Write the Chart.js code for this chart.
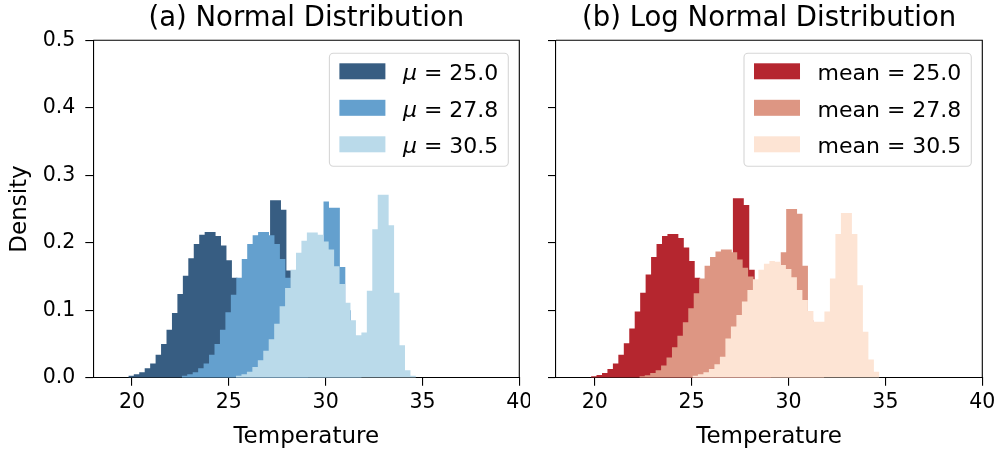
<!DOCTYPE html>
<html>
<head>
<meta charset="utf-8">
<script src="https://cdn.jsdelivr.net/npm/chart.js@4.4.1/dist/chart.umd.min.js"></script>
<style>
  body { margin: 0; background: #fff; }
  #wrap { position: relative; width: 998px; height: 449px; }
  canvas { position: absolute; top: 0; }
</style>
</head>
<body>
<div id="wrap">
  <canvas id="normalChart" width="530" height="449" style="left:0"></canvas>
  <canvas id="logChart" width="468" height="449" style="left:530px"></canvas>
</div>
<script>
// axes
const xMin = 18, xMax = 40;
const xTicks = [20, 25, 30, 35, 40];
const yTicks = [0, 0.1, 0.2, 0.3, 0.4, 0.5];
const yTickLabels = ["0.0", "0.1", "0.2", "0.3", "0.4", "0.5"];

// (a) normal: histogram heights per bin
const normalMeans = ["25.0", "27.8", "30.5"];
const normalBinStart = [19.81, 22.57, 25.37];
const normalBinWidth = [0.2815, 0.2815, 0.2815];
const normal250 = [0.003, 0.005, 0.008, 0.014, 0.021, 0.034, 0.050, 0.071, 0.096, 0.124, 0.151,
  0.177, 0.198, 0.212, 0.216, 0.216, 0.210, 0.196, 0.174, 0.148, 0.125, 0.100, 0.080, 0.085,
  0.120, 0.190, 0.263, 0.263, 0.249, 0.159, 0.090, 0.040, 0.010];
const normal278 = [0.003, 0.005, 0.008, 0.014, 0.021, 0.034, 0.050, 0.071, 0.097, 0.123, 0.148,
  0.176, 0.198, 0.211, 0.216, 0.216, 0.211, 0.198, 0.176, 0.148, 0.125, 0.100, 0.082, 0.085,
  0.125, 0.200, 0.261, 0.252, 0.252, 0.164, 0.100, 0.045, 0.010];
const normal305 = [0.003, 0.005, 0.009, 0.016, 0.026, 0.040, 0.057, 0.080, 0.106, 0.133, 0.160,
  0.185, 0.203, 0.215, 0.215, 0.212, 0.202, 0.190, 0.165, 0.139, 0.111, 0.085, 0.063, 0.067,
  0.129, 0.220, 0.271, 0.271, 0.226, 0.126, 0.048, 0.011, 0.003];

// (b) log normal
const logMeans = ["25.0", "27.8", "30.5"];
const logBinStart = [19.81, 22.30, 25.04];
const logBinWidth = [0.2815, 0.2807, 0.2838];
const log250 = [0.002, 0.004, 0.007, 0.013, 0.021, 0.034, 0.051, 0.073, 0.098, 0.126, 0.153,
  0.179, 0.198, 0.210, 0.213, 0.213, 0.207, 0.193, 0.173, 0.148, 0.125, 0.100, 0.080, 0.085,
  0.120, 0.180, 0.266, 0.266, 0.256, 0.160, 0.090, 0.040, 0.010];
const log278 = [0.002, 0.0035, 0.007, 0.011, 0.018, 0.030, 0.045, 0.062, 0.082, 0.103, 0.125,
  0.147, 0.166, 0.179, 0.187, 0.190, 0.190, 0.186, 0.175, 0.163, 0.150, 0.128, 0.120, 0.125,
  0.140, 0.165, 0.186, 0.250, 0.250, 0.243, 0.166, 0.085, 0.030, 0.008];
const log305 = [0.003, 0.005, 0.008, 0.013, 0.020, 0.031, 0.058, 0.076, 0.093, 0.113, 0.130,
  0.146, 0.160, 0.169, 0.173, 0.172, 0.167, 0.161, 0.149, 0.130, 0.115, 0.099, 0.083, 0.083,
  0.098, 0.147, 0.213, 0.244, 0.244, 0.213, 0.137, 0.068, 0.027, 0.009];

const blues = ["rgb(55,93,130)", "rgb(100,160,206)", "rgb(186,218,234)"];
const reds = ["rgb(181,38,47)", "rgb(221,150,131)", "rgb(253,228,212)"];

Chart.defaults.font.family = "'DejaVu Sans', sans-serif";
Chart.defaults.color = "#000";

// bins -> stepped line points (left edges + closing right edge)
function histPoints(start, width, heights) {
  const pts = heights.map((h, i) => ({ x: start + i * width, y: h }));
  pts.push({ x: start + heights.length * width, y: 0 });
  return pts;
}

function makeDatasets(starts, widths, series, colors) {
  return series.map((s, i) => ({
    data: histPoints(starts[i], widths[i], s),
    stepped: "before",
    fill: "origin",
    backgroundColor: colors[i],
    borderWidth: 0,
    pointRadius: 0,
    order: series.length - i, // first series at the back, like matplotlib
  }));
}

// title, top/right spines, legend box
const decor = {
  id: "decor",
  afterDraw(chart, args, o) {
    const { ctx, chartArea: a } = chart;
    ctx.save();
    ctx.strokeStyle = "#000";
    ctx.lineWidth = 1.1;
    ctx.beginPath();
    ctx.moveTo(a.left, a.top);
    ctx.lineTo(a.right, a.top);
    ctx.lineTo(a.right, a.bottom);
    ctx.stroke();

    ctx.fillStyle = "#000";
    ctx.font = "27.5px 'DejaVu Sans'";
    ctx.textAlign = "center";
    ctx.textBaseline = "middle";
    ctx.fillText(o.title, (a.left + a.right) / 2, 19);

    // legend
    const fs = 22;
    const regular = fs + "px 'DejaVu Sans'";
    const italic = "italic " + fs + "px 'DejaVu Sans'";
    ctx.textAlign = "left";
    ctx.textBaseline = "alphabetic";
    const widths = o.labels.map(l => {
      ctx.font = italic;
      let w = l.prefixItalic ? ctx.measureText(l.prefixItalic).width : 0;
      ctx.font = regular;
      return w + ctx.measureText(l.text).width;
    });
    const textW = Math.max(...widths);
    const boxR = a.right - 11;
    const boxW = 10 + 46 + 17.5 + textW + 10;
    const boxL = boxR - boxW;
    const boxT = a.top + 13;
    const boxH = 113;
    ctx.beginPath();
    ctx.roundRect(boxL, boxT, boxW, boxH, 4);
    ctx.fillStyle = "rgba(255,255,255,0.8)";
    ctx.fill();
    ctx.strokeStyle = "#d6d6d6";
    ctx.lineWidth = 1.1;
    ctx.stroke();
    o.labels.forEach((l, i) => {
      const cy = boxT + 18 + i * 36.5;
      ctx.fillStyle = o.colors[i];
      ctx.fillRect(boxL + 10, cy - 8, 46, 16);
      ctx.fillStyle = "#000";
      let tx = boxL + 10 + 46 + 17.5;
      if (l.prefixItalic) {
        ctx.font = italic;
        ctx.fillText(l.prefixItalic, tx, cy + 9);
        tx += ctx.measureText(l.prefixItalic).width;
      }
      ctx.font = regular;
      ctx.fillText(l.text, tx, cy + 9);
    });
    ctx.restore();
  }
};

function makeChart(id, datasets, cfg) {
  const ctx = document.getElementById(id).getContext("2d");
  return new Chart(ctx, {
    type: "line",
    data: { datasets },
    plugins: [decor],
    options: {
      responsive: false,
      animation: false,
      events: [],
      devicePixelRatio: 1,
      layout: { padding: { top: 40.3, right: cfg.padRight, left: 0, bottom: 0 } },
      plugins: {
        legend: { display: false },
        tooltip: { enabled: false },
        decor: { title: cfg.title, labels: cfg.labels, colors: cfg.colors },
      },
      scales: {
        x: {
          type: "linear",
          min: xMin,
          max: xMax,
          afterBuildTicks: s => { s.ticks = xTicks.map(v => ({ value: v })); },
          afterFit: s => { s.height = 71.3; s.paddingLeft = 0; s.paddingRight = 0; },
          grid: { drawOnChartArea: false, drawTicks: true, tickLength: 8, color: "#000", lineWidth: 1.1 },
          border: { display: true, color: "#000", width: 1.1 },
          ticks: { font: { size: 20.5 }, color: "#000", padding: 5, maxRotation: 0, autoSkip: false },
          title: { display: true, text: "Temperature", font: { size: 23, lineHeight: 1 }, padding: { top: 0, bottom: 0 } },
        },
        y: {
          type: "linear",
          min: 0,
          max: 0.5,
          afterBuildTicks: s => { s.ticks = yTicks.map(v => ({ value: v })); },
          afterFit: s => { s.width = cfg.yWidth; s.paddingTop = 0; s.paddingBottom = 0; },
          grid: { drawOnChartArea: false, drawTicks: true, tickLength: 8, color: "#000", lineWidth: 1.1 },
          border: { display: true, color: "#000", width: 1.1 },
          ticks: {
            font: { size: 20.5 },
            color: "#000",
            padding: 10,
            callback: (v, i) => (cfg.yLabels ? yTickLabels[i] : ""),
          },
          title: { display: cfg.yLabels, text: "Density", font: { size: 23, lineHeight: 1 }, padding: { top: 9, bottom: 0 } },
        },
      },
    },
  });
}

makeChart("normalChart",
  makeDatasets(normalBinStart, normalBinWidth, [normal250, normal278, normal305], blues),
  {
    title: "(a) Normal Distribution",
    padRight: 10.7,
    yWidth: 93.3,
    yLabels: true,
    colors: blues,
    labels: normalMeans.map(m => ({ prefixItalic: "μ", text: " = " + m })),
  });

makeChart("logChart",
  makeDatasets(logBinStart, logBinWidth, [log250, log278, log305], reds),
  {
    title: "(b) Log Normal Distribution",
    padRight: 15.7,
    yWidth: 26,
    yLabels: false,
    colors: reds,
    labels: logMeans.map(m => ({ text: "mean = " + m })),
  });
</script>
</body>
</html>
